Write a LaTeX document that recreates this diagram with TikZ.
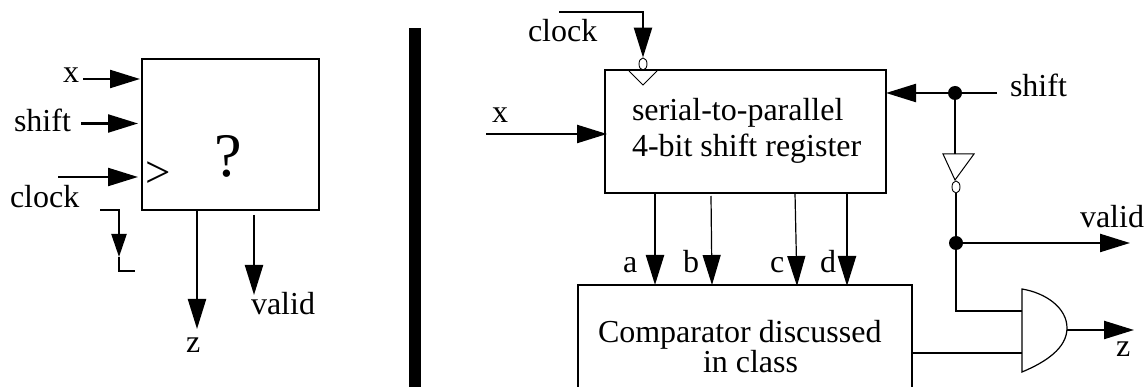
\documentclass[tikz,border=0pt]{standalone}
\usepackage{fontspec}
\setmainfont{Liberation Serif}
\usetikzlibrary{arrows.meta,shapes.geometric}

\tikzset{
  lbl/.style={anchor=base west,inner sep=0pt,outer sep=0pt,font=\fontsize{32}{32}\selectfont},
  block/.style={draw,line width=2.3pt,inner sep=0pt,outer sep=0pt},
  wire/.style={line width=2.3pt},
  thinwire/.style={line width=1.2pt},
  sig/.style={-{Triangle[length=30pt,width=18pt]}},
  smallsig/.style={-{Triangle[length=23pt,width=15pt]}},
  joint/.style={circle,fill,inner sep=0pt,minimum size=14pt},
  bubble/.style={draw,ellipse,line width=0.9pt,inner sep=0pt,minimum width=8pt,minimum height=12pt}
}

\begin{document}
\begin{tikzpicture}[x=1pt,y=-1pt]
            \useasboundingbox (0,0) rectangle (1144,387);

            % Left block
            \node[block,minimum width=177pt,minimum height=151pt] (blackbox) at (230.5,134.5) {};
            \node[lbl,font=\fontsize{62}{62}\selectfont] (qmark) at (214,177) {?};
            \node[lbl,font=\fontsize{45}{45}\selectfont] (trig) at (145,188) {>};

            % Left inputs
            \node[lbl] (xname) at (63,83) {x};
            \coordinate (xstart) at (83,79);
            \draw[wire,sig] (xstart) -- (140,79);
            \node[lbl] (shiftname) at (14,132) {shift};
            \coordinate (shiftstart) at (81,123.5);
            \draw[wire,sig] (shiftstart) -- (138,123.5);
            \node[lbl] (clockname) at (10,208) {clock};
            \coordinate (clockstart) at (58,177);
            \draw[wire,sig] (clockstart) -- (138,177);

            % Clock waveform
            \coordinate (wave1) at (100,210);
            \coordinate (wave2) at (119,210);
            \coordinate (wave3) at (119,257);
            \coordinate (wave4) at (119,271);
            \coordinate (wave5) at (135,271);
            \draw[wire,smallsig] (wave1) -- (wave2) -- (wave3);
            \draw[wire] (wave3) -- (wave4) -- (wave5);

            % Left outputs
            \coordinate (zend) at (197,329);
            \draw[wire,sig] (blackbox.south -| zend) -- (zend);
            \node[lbl] (zname) at (186,353) {z};
            \coordinate (validstart) at (254,215);
            \coordinate (validend) at (254,295);
            \draw[wire,sig] (validstart) -- (validend);
            \node[lbl] (validname) at (251,315) {valid};

            % Divider
            \fill (409,28) rectangle (421,387);

            % Shift register
            \node[block,minimum width=281pt,minimum height=123pt] (shreg) at (745.5,131.5) {};
            \node[lbl] (regtext1) at (632,121) {serial-to-parallel};
            \node[lbl] (regtext2) at (632,157) {4-bit shift register};

            % Register clock
            \node[lbl] (rclockname) at (528,42) {clock};
            \coordinate (rclock1) at (559,12);
            \coordinate (rclock2) at (643,12);
            \node[bubble] (clkbub) at (643,64) {};
            \draw[wire,sig] (rclock1) -- (rclock2) -- (clkbub.north);
            \draw[line width=0.9pt] (629,71) -- (643,85) -- (657,71);

            % Register input
            \node[lbl] (rxname) at (492,123) {x};
            \coordinate (rxstart) at (486,134);
            \draw[wire,sig] (rxstart) -- (607,134);

            % Shift line
            \node[lbl] (rshiftname) at (1010,97) {shift};
            \coordinate (rshiftstart) at (997,93);
            \node[joint] (dot1) at (955,93) {};
            \draw[wire] (rshiftstart) -- (dot1);
            \draw[wire,sig] (dot1) -- (dot1 -| shreg.east);

            % Inverter
            \coordinate (invl) at (943,154);
            \coordinate (invr) at (974,154);
            \coordinate (invtip) at (955,180);
            \draw[line width=1pt] (invl) -- (invr) -- (invtip) -- cycle;
            \draw[wire] (dot1) -- (dot1 |- invl);
            \node[bubble] (invbub) at (956,187) {};

            % Valid output
            \node[joint] (dot2) at (956,243) {};
            \draw[wire] (invbub) -- (dot2);
            \coordinate (rvalidend) at (1130,243);
            \draw[wire,sig] (dot2) -- (rvalidend);
            \node[lbl] (rvalidname) at (1080,228) {valid};

            % Comparator
            \coordinate (cmpbl) at (578,388);
            \coordinate (cmptl) at (578,285);
            \coordinate (cmptr) at (912,285);
            \coordinate (cmpbr) at (912,388);
            \draw[wire] (cmpbl) -- (cmptl) -- (cmptr) -- (cmpbr);
            \node[lbl,anchor=north west,align=left,font=\fontsize{32}{27}\selectfont] (cmptext) at (598,320)
                {Comparator discussed\\\hspace*{105pt}in class};

            % Bits
            \coordinate (abit) at (655,285);
            \draw[wire,sig] (shreg.south -| abit) -- (abit);
            \node[lbl] (aname) at (623,273) {a};
            \coordinate (btop) at (711,196);
            \coordinate (bbit) at (712,285);
            \draw[thinwire,sig] (btop) -- (bbit);
            \node[lbl] (bname) at (683,273) {b};
            \coordinate (ctop) at (795,193);
            \coordinate (cbit) at (797,286);
            \draw[thinwire,sig] (ctop) -- (cbit);
            \node[lbl] (cname) at (770,273) {c};
            \coordinate (dbit) at (847,286);
            \draw[wire,sig] (shreg.south -| dbit) -- (dbit);
            \node[lbl] (dname) at (820,273) {d};

            % AND gate
            \coordinate (andtop) at (1022,289);
            \coordinate (andbot) at (1022,372);
            \coordinate (andout) at (1067,328);
            \draw[line width=1.2pt] (andtop) .. controls (1046,293) and (1067,308) .. (andout)
                .. controls (1067,348) and (1046,362) .. (andbot) -- cycle;
            \coordinate (andin1) at (1022,311);
            \coordinate (andin2) at (1022,353);
            \coordinate (elbow) at (956,311);
            \draw[wire] (dot2) -- (elbow) -- (andin1);
            \draw[wire] (cmptr |- andin2) -- (andin2);
            \coordinate (zout) at (1134,330);
            \coordinate (zfrom) at (1067,330);
            \draw[wire,sig] (zfrom) -- (zout);
            \node[lbl] (rzname) at (1116,357) {z};
\end{tikzpicture}
\end{document}
